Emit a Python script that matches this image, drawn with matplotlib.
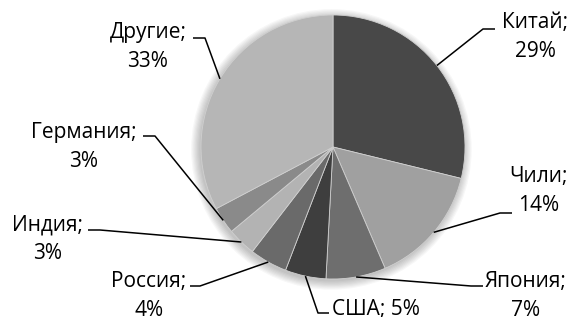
import numpy as np
import matplotlib.pyplot as plt

# shares (slice angles), labels as printed on the chart
countries = ['Китай', 'Чили', 'Япония', 'США', 'Россия', 'Индия', 'Германия', 'Другие']
shares = [28.8, 14.7, 7.3, 5.0, 4.6, 3.5, 3.3, 32.7]
pct_labels = ['29%', '14%', '7%', '5%', '4%', '3%', '3%', '33%']
colors = ['#484848', '#a0a0a0', '#6e6e6e', '#3e3e3e', '#6a6a6a', '#b3b3b3', '#8a8a8a', '#b6b6b6']

plt.rcParams['font.family'] = ['Open Sans', 'DejaVu Sans']

# canvas in pixels, pie centre and radius in pixels
W, H = 572, 317
CX, CY, R = 333, 147, 132


def to_data(x, y):
    return (x - CX) / R, (CY - y) / R


# label placement (pixel positions): text centre, hook next to text, elbow
text_pos = [(535, 37), (539, 191), (526, 296), (376, 309),
            (149, 296), (48, 239), (84, 147), (148, 47)]
hook_pos = [(495, 29), (512, 213), (483, 286), (329, 313),
            (190, 286), (88, 230), (143, 136), (193, 38)]
elbow_pos = [(483, 29), (500, 213), (471, 286), (318, 313),
             (200, 286), (100, 230), (155, 136), (205, 38)]

fig = plt.figure(figsize=(W / 100, H / 100), dpi=100)
ax = fig.add_axes([0, 0, 1, 1])

# soft shadow behind the pie
for i in range(8):
    ax.add_patch(plt.Circle((-0.012, -0.018), 1.0 + 0.009 * i, color='k',
                            alpha=0.03, lw=0, zorder=0))

wedges, _ = ax.pie(shares, colors=colors, startangle=90, counterclock=False,
                   radius=1.0, center=(0, 0),
                   wedgeprops=dict(edgecolor='#cfcfcf', linewidth=0.6))
for w in wedges:
    w.set_zorder(2)

for i, w in enumerate(wedges):
    ang = np.deg2rad((w.theta1 + w.theta2) / 2)
    px_, py_ = np.cos(ang), np.sin(ang)
    hx, hy = to_data(*hook_pos[i])
    ex, ey = to_data(*elbow_pos[i])
    ax.plot([hx, ex, px_], [hy, ey, py_], color='black', lw=1.1, zorder=3,
            solid_capstyle='butt')
    tx, ty = to_data(*text_pos[i])
    if countries[i] == 'США':
        label = countries[i] + '; ' + pct_labels[i]
    else:
        label = countries[i] + ';\n' + pct_labels[i]
    ax.text(tx, ty, label, ha='center', va='center', fontsize=15,
            linespacing=1.45, color='black', zorder=4)

ax.set_aspect('auto')
ax.set_xlim(-CX / R, (W - CX) / R)
ax.set_ylim(-(H - CY) / R, CY / R)
ax.axis('off')

plt.savefig('out.png', dpi=100)
